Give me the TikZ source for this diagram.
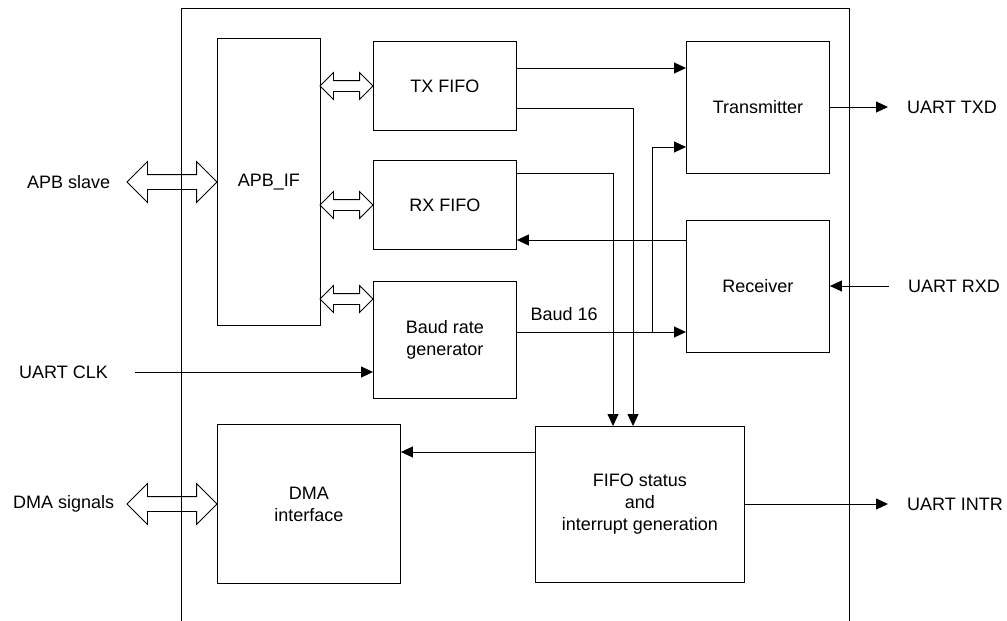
\documentclass[tikz,border=0pt]{standalone}
\usepackage{fontspec}
\setmainfont{Liberation Sans}
\usetikzlibrary{arrows.meta,shapes.arrows,positioning}
\begin{document}
\begin{tikzpicture}[x=1pt,y=-1pt,font=\fontsize{18}{22}\selectfont,
	blk/.style={draw,line width=0.9pt,anchor=north west,align=center,inner sep=0pt},
	sig/.style={line width=0.9pt,-{Triangle[length=12pt,width=11pt]}},
	bus/.style={draw,double arrow,line width=0.8pt,inner xsep=0pt,inner ysep=7pt,double arrow head extend=13pt,minimum height=90pt},
	smallbus/.style={bus,inner ysep=5pt,double arrow head extend=8pt,minimum height=53pt},
	lbl/.style={inner sep=0pt}]
	\useasboundingbox (0,0) rectangle (1007,621);
	% outer frame, open at the bottom
	\draw[line width=0.9pt] (181,621) |- (849,8) -- (849,621);
	% blocks
	\node[blk,minimum width=103pt,minimum height=287pt] (apbif) at (217,38) {APB\_IF};
	\node[blk,minimum width=143pt,minimum height=89pt] (txfifo) at (373,41) {TX FIFO};
	\node[blk,minimum width=143pt,minimum height=89pt] (rxfifo) at (373,160) {RX FIFO};
	\node[blk,minimum width=143pt,minimum height=117pt] (baudgen) at (373,281) {Baud rate\\generator};
	\node[blk,minimum width=143pt,minimum height=132pt] (tx) at (686,41) {Transmitter};
	\node[blk,minimum width=143pt,minimum height=132pt] (rx) at (686,220) {Receiver};
	\node[blk,minimum width=183pt,minimum height=159pt] (dma) at (217,424) {DMA\\interface};
	\node[blk,minimum width=209pt,minimum height=156pt] (fifostat) at (535,426) {FIFO status\\and\\interrupt generation};
	% bus arrows
	\node[bus] (apbbus) at (172,182) {};
	\node[bus] (dmabus) at (172,504) {};
	\node[lbl,left=16pt of apbbus.west] {APB slave};
	\node[lbl,left=12pt of dmabus.west] {DMA signals};
	\foreach \y in {86,205,299}
		\node[smallbus] at (346.5,\y) {};
	% signals
	\coordinate (clkin) at (135,372);
	\node[lbl,left=27pt of clkin] {UART CLK};
	\draw[sig] (clkin) -- (baudgen.west |- clkin);
	\draw[sig] (txfifo.east |- 0,68) -- (tx.west |- 0,68);
	\draw[sig] (txfifo.east |- 0,108) -| (633,0 |- fifostat.north);
	\draw[sig] (rxfifo.east |- 0,173) -| (613,0 |- fifostat.north);
	\draw[sig] (rx.west |- 0,240) -- (rxfifo.east |- 0,240);
	\coordinate (split) at (652,332);
	\draw[sig] (baudgen.east |- split) -- node[pos=0.28,above=11pt,lbl] {Baud 16} (rx.west |- split);
	\draw[sig] (split) |- (tx.west |- 0,147);
	\draw[sig] (fifostat.west |- 0,452) -- (dma.east |- 0,452);
	% outputs and inputs on the right
	\coordinate (txd) at (888,107);
	\coordinate (rxd) at (889,286);
	\coordinate (intr) at (888,504);
	\draw[sig] (tx.east |- txd) -- (txd);
	\draw[sig] (rxd) -- (rx.east |- rxd);
	\draw[sig] (fifostat.east |- intr) -- (intr);
	\foreach \c/\t in {txd/UART TXD,rxd/UART RXD,intr/UART INTR}
		\node[lbl,right=19pt of \c] {\t};
\end{tikzpicture}
\end{document}
